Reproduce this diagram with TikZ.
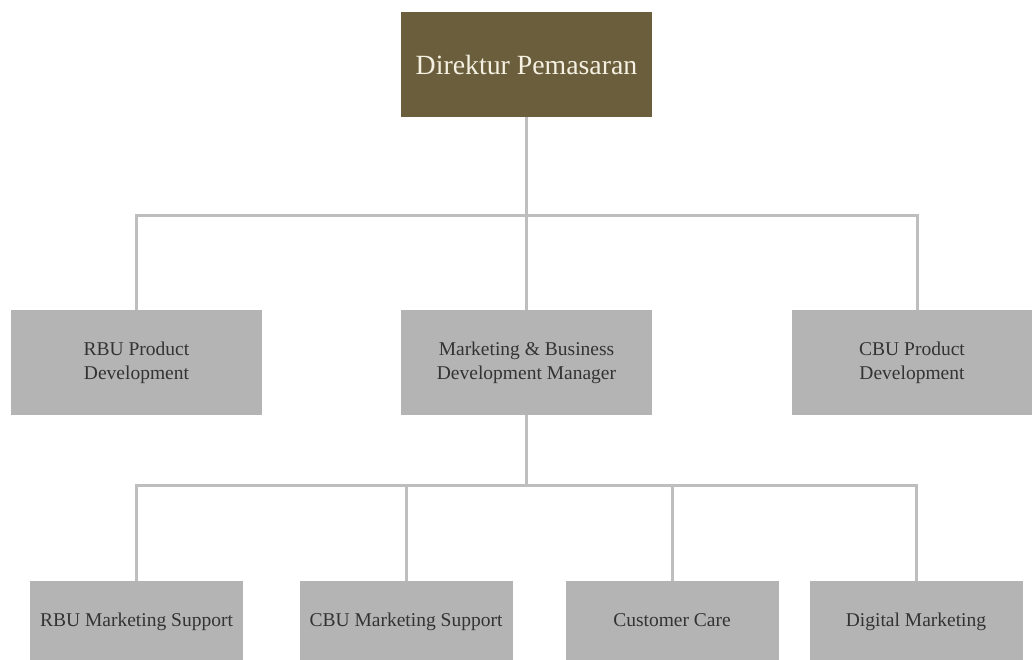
\documentclass[tikz,border=0pt]{standalone}
\usepackage{fontspec}
\setmainfont{Liberation Serif}
\definecolor{topfill}{HTML}{6B5E3C}
\definecolor{toptext}{HTML}{F4F0E2}
\definecolor{boxfill}{HTML}{B4B4B4}
\definecolor{boxtext}{HTML}{333333}
\definecolor{linecol}{HTML}{BEBEBE}
\begin{document}
\begin{tikzpicture}[x=1pt,y=-1pt,
  topbox/.style={fill=topfill,text=toptext,minimum width=251pt,minimum height=105pt,inner sep=0pt,
    font=\fontsize{27.8}{32}\selectfont},
  midbox/.style={fill=boxfill,text=boxtext,minimum width=251pt,minimum height=105pt,inner sep=0pt,
    align=center,font=\fontsize{19.5}{24}\selectfont},
  botbox/.style={fill=boxfill,text=boxtext,minimum width=213pt,minimum height=82pt,inner sep=0pt,
    text height=13pt,text depth=4.5pt,
    align=center,font=\fontsize{19.5}{24}\selectfont},
  conn/.style={draw=linecol,line width=3pt}]
\useasboundingbox (0,0) rectangle (1032,660);
\clip (0,0) rectangle (1032,660);
\fill[white] (0,0) rectangle (1032,660);
\node[topbox] (top) at (526.5,64.5) {Direktur Pemasaran};
\node[midbox] (rbu) at (136.5,362.5) {RBU Product\\Development};
\node[midbox] (mbd) at (526.5,362.5) {Marketing \& Business\\Development Manager};
\node[midbox] (cbu) at (917.5,362.5) {};
\node[text=boxtext,align=center,font=\fontsize{19.5}{24}\selectfont] (cbut) at (912,362.5) {CBU Product\\Development};
\node[botbox] (rms) at (136.5,622) {RBU Marketing Support};
\node[botbox] (cms) at (406,622) {CBU Marketing Support};
\node[botbox] (cc) at (672,622) {Customer Care};
\node[botbox] (dm) at (916,622) {Digital Marketing};
\draw[conn] (top.south) -- (mbd.north);
\draw[conn] (top.south) -- ++(0,98) -| (rbu.north);
\draw[conn] (top.south) -- ++(0,98) -| (cbu.north);
\draw[conn] (mbd.south) -- ++(0,70) -| (rms.north);
\draw[conn] (mbd.south) -- ++(0,70) -| (cms.north);
\draw[conn] (mbd.south) -- ++(0,70) -| (cc.north);
\draw[conn] (mbd.south) -- ++(0,70) -| (dm.north);
\end{tikzpicture}
\end{document}
